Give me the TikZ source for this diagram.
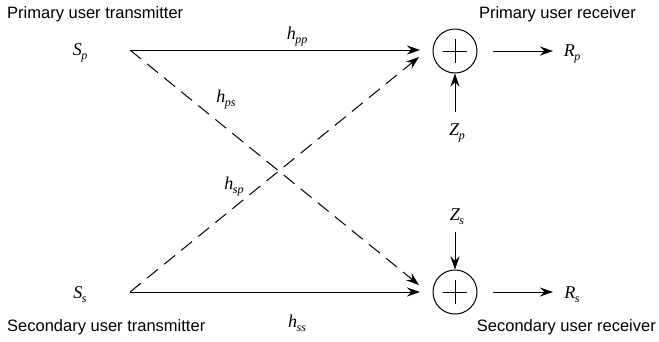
\documentclass[tikz,border=0pt]{standalone}
\usepackage{fontspec}
\setmainfont{Liberation Serif}
\newfontfamily\lab{Liberation Sans}
\usetikzlibrary{arrows.meta}
\newcommand{\vsym}[2]{\fontsize{18}{20}\selectfont\itshape #1\kern-0.5pt\raisebox{-4pt}{\fontsize{12}{13}\selectfont #2}}
\begin{document}
\begin{tikzpicture}[x=1pt,y=-1pt,
  lbl/.style={font=\lab\fontsize{16.5}{18}\selectfont, inner sep=0pt},
  sym/.style={inner sep=0pt},
  sumnode/.style={draw, circle, minimum size=44pt, inner sep=0pt, line width=1pt},
  arr/.style={line width=1pt, -{Stealth[length=13pt,width=9pt]}},
  dsh/.style={arr, dash pattern=on 14pt off 8pt}]
\useasboundingbox (0,0) rectangle (659,341);
% labels
\node[lbl, anchor=west] (ptx) at (7,14) {Primary user transmitter};
\node[lbl, anchor=east] (prx) at (636,14) {Primary user receiver};
\node[lbl, anchor=west] (stx) at (7,327) {Secondary user transmitter};
\node[lbl, anchor=east] (srx) at (656,327) {Secondary user receiver};
% symbols
\node[sym] (Sp) at (80,53) {\vsym{S}{p}};
\node[sym] (Ss) at (80,295) {\vsym{S}{s}};
\node[sym] (Rp) at (572,54) {\vsym{R}{p}};
\node[sym] (Rs) at (572,295) {\vsym{R}{s}};
\node[sym] (Zp) at (457,133) {\vsym{Z}{p}};
\node[sym] (Zs) at (457,217) {\vsym{Z}{s}};
% sum nodes
\node[sumnode] (sp) at (455,51) {};
\node[sumnode] (ss) at (455,292) {};
\draw[line width=1pt] (sp.center) ++(-12,0) -- ++(24,0) (sp.center) ++(0,-12) -- ++(0,24);
\draw[line width=1pt] (ss.center) ++(-12,0) -- ++(24,0) (ss.center) ++(0,-12) -- ++(0,24);
% coordinates
\coordinate (ap) at (130,50);
\coordinate (as) at (130,292);
\coordinate (tp) at (420,50);
\coordinate (ts) at (420,292);
\coordinate (tpd) at (419,57);
\coordinate (tsd) at (419,285);
% links
\draw[arr] (ap) -- (tp);
\draw[arr] (as) -- (ts);
\draw[dsh] (ap) -- (tsd);
\draw[dsh] (as) -- (tpd);
\node[sym] (hpp) at (297,37) {\vsym{h}{pp}};
\node[sym] (hss) at (297,323) {\vsym{h}{ss}};
\node[sym] (hps) at (226,100) {\vsym{h}{ps}};
\node[sym] (hsp) at (234,187) {\vsym{h}{sp}};
% outputs
\coordinate (op) at (493,51);
\coordinate (os) at (493,292);
\coordinate (ep) at (553,51);
\coordinate (es) at (553,292);
\draw[arr] (op) -- (ep);
\draw[arr] (os) -- (es);
% noise
\coordinate (zpt) at (455,112);
\coordinate (zst) at (455,232);
\draw[arr] (zpt) -- (sp.south);
\draw[arr] (zst) -- (ss.north);
\end{tikzpicture}
\end{document}
